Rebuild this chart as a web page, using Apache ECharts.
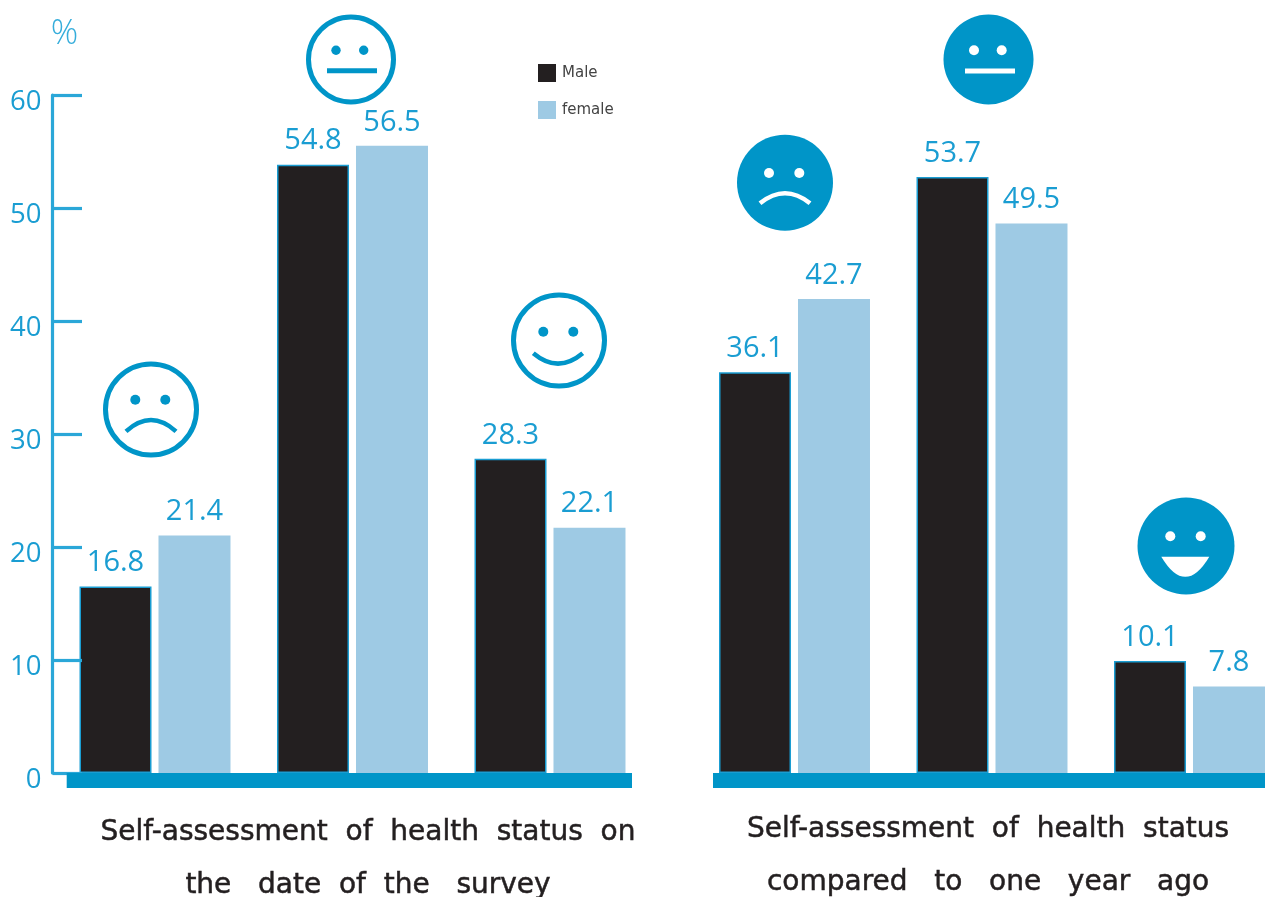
<!DOCTYPE html>
<html>
<head>
<meta charset="utf-8">
<style>html,body{margin:0;padding:0;background:#fff}#c{width:1265px;height:897px}</style>
<script src="https://cdn.jsdelivr.net/npm/echarts@6/dist/echarts.min.js"></script>
</head>
<body>
<div id="c"></div>
<script>
const seriesNames = ['Male', 'female'];
const surveyCategories = ['Bad', 'Average', 'Good'];
const surveyMale = [16.8, 54.8, 28.3];
const surveyFemale = [21.4, 56.5, 22.1];
const yearCategories = ['Worse', 'Same', 'Better'];
const yearMale = [36.1, 53.7, 10.1];
const yearFemale = [42.7, 49.5, 7.8];
const tickMax = 60;
const tickStep = 10;
const barScaleMax = 61.08;
const surveyTitle = 'Self-assessment  of  health  status  on\nthe   date  of  the   survey';
const yearTitle = 'Self-assessment  of  health  status\ncompared   to   one   year   ago';

const BLUE = '#0095C8', AXIS = '#2AA7D8', TXT = '#1A9DD2', DARK = '#231F20', LIGHT = '#9ECAE4';
const NUM_FONT = '"Open Sans", sans-serif';

function eye(x, y, fill, r) { return {type:'circle', z:20, shape:{cx:x, cy:y, r:r||5}, style:{fill}}; }
function curve(x1, y1, cx, cy, x2, y2, stroke) {
  return {type:'bezierCurve', z:20, shape:{x1, y1, x2, y2, cpx1:cx, cpy1:cy}, style:{stroke, lineWidth:4.5, fill:null}};
}
function ring(cx, cy, r) { return {type:'circle', z:20, shape:{cx, cy, r:r-2.5}, style:{fill:'#fff', stroke:BLUE, lineWidth:5}}; }
function disc(cx, cy, r) { return {type:'circle', z:20, shape:{cx, cy, r}, style:{fill:BLUE}}; }
function dash(x, y, w, fill) { return {type:'rect', z:20, shape:{x, y:y-2.5, width:w, height:5}, style:{fill}}; }

const graphics = [
  {type:'rect', z:10, shape:{x:66.7, y:773, width:565.3, height:15}, style:{fill:BLUE}},
  {type:'rect', z:10, shape:{x:713, y:773, width:552, height:15}, style:{fill:BLUE}},
  ring(151, 409.5, 48), eye(135.3, 399.7, BLUE), eye(165.3, 399.7, BLUE), curve(126, 431.3, 151, 408.7, 176, 431.3, BLUE),
  ring(351, 59.5, 45), eye(336, 50.3, BLUE, 4.7), eye(363.7, 50.3, BLUE, 4.7), dash(327, 70.7, 50, BLUE),
  ring(559, 340.5, 48), eye(543.3, 331.7, BLUE), eye(573.3, 331.7, BLUE), curve(533.3, 353.3, 558, 374, 582.7, 353.3, BLUE),
  disc(785, 182.7, 48), eye(769, 173, '#fff'), eye(799.3, 173, '#fff'), curve(760, 203.3, 785, 183.3, 810, 203.3, '#fff'),
  disc(988.5, 59.5, 45), eye(974, 50.3, '#fff'), eye(1001.7, 50.3, '#fff'), dash(965, 71, 50, '#fff'),
  disc(1186, 546, 48.5), eye(1170.3, 536.3, '#fff'), eye(1200.7, 536.3, '#fff'),
  {type:'bezierCurve', z:20, shape:{x1:1161.3, y1:556.7, x2:1209.3, y2:556.7, cpx1:1185.3, cpy1:597}, style:{fill:'#fff', stroke:null}}
];

function barSeries(name, data, gridIdx, color, border) {
  return {
    type:'bar', name, data, xAxisIndex:gridIdx, yAxisIndex:gridIdx === 0 ? 1 : 2,
    barWidth:72, barGap:'9.7%',
    itemStyle:{color, borderColor:border, borderWidth:border ? 1.5 : 0},
    label:{show:true, position:'top', distance:9, color:TXT, fontFamily:NUM_FONT, fontSize:29,
      formatter:p => p.value.toFixed(1)},
    silent:true, animation:false
  };
}

const chart = echarts.init(document.getElementById('c'), null, {renderer:'canvas'});
chart.setOption({
  animation:false,
  backgroundColor:'#fff',
  title:[
    {text:surveyTitle, left:368, top:806, textAlign:'center', padding:0,
     textStyle:{fontFamily:'"DejaVu Sans"', fontSize:28, fontWeight:'normal', color:DARK, lineHeight:53,
       textBorderColor:DARK, textBorderWidth:0.5}},
    {text:yearTitle, left:988, top:803.5, textAlign:'center', padding:0,
     textStyle:{fontFamily:'"DejaVu Sans"', fontSize:28, fontWeight:'normal', color:DARK, lineHeight:53,
       textBorderColor:DARK, textBorderWidth:0.5}}
  ],
  legend:{
    data:seriesNames, orient:'vertical', left:538, top:64, itemWidth:18, itemHeight:18, itemGap:19,
    padding:0, icon:'rect', selectedMode:false, itemStyle:{borderWidth:0},
    textStyle:{fontFamily:'"DejaVu Sans"', fontSize:15, color:'#444', padding:[0,0,0,1]}
  },
  grid:[
    {left:56.25, width:592.5, top:95, height:678, containLabel:false, outerBoundsMode:'none'},
    {left:695.75, width:592.5, top:95, height:678, containLabel:false, outerBoundsMode:'none'}
  ],
  xAxis:[
    {type:'category', gridIndex:0, data:surveyCategories, show:false},
    {type:'category', gridIndex:1, data:yearCategories, show:false}
  ],
  yAxis:[
    {type:'value', gridIndex:0, min:0, max:tickMax, interval:tickStep, position:'left', offset:3.75, z:5,
     name:'%', nameLocation:'end', nameGap:44,
     nameTextStyle:{color:'#35ADDB', fontFamily:NUM_FONT, fontSize:34, fontWeight:300, padding:[0,0,0,24]},
     axisLine:{show:true, onZero:false, lineStyle:{color:AXIS, width:3.2}},
     axisTick:{show:true, inside:true, length:29.5, lineStyle:{color:AXIS, width:3.2}},
     axisLabel:{show:true, margin:11, color:TXT, fontFamily:NUM_FONT, fontSize:27.5, verticalAlign:'top', lineHeight:14},
     splitLine:{show:false}},
    {type:'value', gridIndex:0, min:0, max:barScaleMax, show:false, splitLine:{show:false}},
    {type:'value', gridIndex:1, min:0, max:barScaleMax, show:false, splitLine:{show:false}}
  ],
  series:[
    barSeries(seriesNames[0], surveyMale, 0, DARK, TXT),
    barSeries(seriesNames[1], surveyFemale, 0, LIGHT, null),
    barSeries(seriesNames[0], yearMale, 1, DARK, TXT),
    barSeries(seriesNames[1], yearFemale, 1, LIGHT, null)
  ],
  graphic:graphics
});
</script>
</body>
</html>
